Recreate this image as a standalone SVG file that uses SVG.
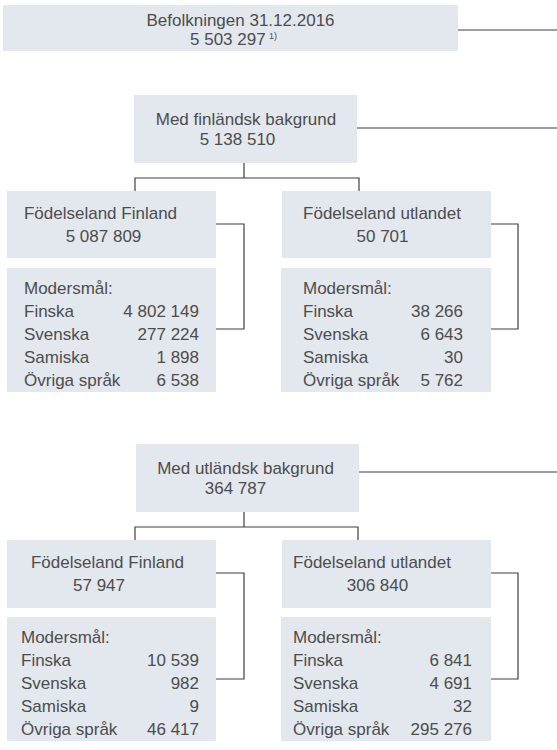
<svg xmlns="http://www.w3.org/2000/svg" width="557" height="750" viewBox="0 0 557 750">
<style>
.box{fill:#e3e7ee;}
.t{font-family:"Liberation Sans",Arial,sans-serif;font-size:17px;fill:#4d4d4d;}
.m{text-anchor:middle;}
.e{text-anchor:end;}
.sup{font-family:"Liberation Sans",Arial,sans-serif;font-size:9px;fill:#4d4d4d;}
.c{fill:none;stroke:#3f3f3f;stroke-width:1.2;}
</style>
<rect width="557" height="750" fill="#ffffff"/>
<g id="connectors">
<path class="c" d="M458,30 H557"/>
<path class="c" d="M357,128 H557"/>
<path class="c" d="M244,163 V178 M135,191 V178 H359 V191"/>
<path class="c" d="M216,224 H244 V329 H216"/>
<path class="c" d="M491,224 H518 V329 H491"/>
<path class="c" d="M359,472 H557"/>
<path class="c" d="M244,512 V527 M135,540 V527 H358 V540"/>
<path class="c" d="M216,573 H244 V679 H216"/>
<path class="c" d="M491,573 H518 V679 H491"/>
</g>
<g id="total">
<rect class="box" x="3" y="5" width="455" height="46"/>
<text class="t m" x="240.5" y="26">Befolkningen 31.12.2016</text>
<text class="t" x="190" y="45">5 503 297</text>
<text class="sup" x="269" y="39">1)</text>
</g>
<g id="fin-bakgrund">
<rect class="box" x="134" y="95" width="223" height="68"/>
<text class="t m" x="246" y="125">Med finländsk bakgrund</text>
<text class="t m" x="237.5" y="145">5 138 510</text>
</g>
<g id="fin-fodd-finland">
<rect class="box" x="7" y="191" width="209" height="67"/>
<text class="t m" x="100.5" y="219">Födelseland Finland</text>
<text class="t m" x="103.5" y="242">5 087 809</text>
</g>
<g id="fin-fodd-finland-sprak">
<rect class="box" x="7" y="268" width="209" height="124"/>
<text class="t" x="24" y="294">Modersmål:</text>
<text class="t" x="24" y="317">Finska</text><text class="t e" x="199" y="317">4 802 149</text>
<text class="t" x="24" y="340">Svenska</text><text class="t e" x="199" y="340">277 224</text>
<text class="t" x="24" y="363">Samiska</text><text class="t e" x="199" y="363">1 898</text>
<text class="t" x="24" y="386">Övriga språk</text><text class="t e" x="199" y="386">6 538</text>
</g>
<g id="fin-fodd-utland">
<rect class="box" x="282" y="191" width="209" height="67"/>
<text class="t m" x="382" y="219">Födelseland utlandet</text>
<text class="t m" x="382.5" y="242">50 701</text>
</g>
<g id="fin-fodd-utland-sprak">
<rect class="box" x="281" y="268" width="210" height="124"/>
<text class="t" x="303" y="294">Modersmål:</text>
<text class="t" x="303" y="317">Finska</text><text class="t e" x="463" y="317">38 266</text>
<text class="t" x="303" y="340">Svenska</text><text class="t e" x="463" y="340">6 643</text>
<text class="t" x="303" y="363">Samiska</text><text class="t e" x="463" y="363">30</text>
<text class="t" x="303" y="386">Övriga språk</text><text class="t e" x="463" y="386">5 762</text>
</g>
<g id="utl-bakgrund">
<rect class="box" x="136" y="444" width="223" height="68"/>
<text class="t m" x="245.5" y="474">Med utländsk bakgrund</text>
<text class="t m" x="235.5" y="494">364 787</text>
</g>
<g id="utl-fodd-finland">
<rect class="box" x="7" y="540" width="209" height="68"/>
<text class="t m" x="107.5" y="568">Födelseland Finland</text>
<text class="t m" x="99" y="591">57 947</text>
</g>
<g id="utl-fodd-finland-sprak">
<rect class="box" x="7" y="617" width="209" height="124"/>
<text class="t" x="21" y="643">Modersmål:</text>
<text class="t" x="21" y="666">Finska</text><text class="t e" x="199" y="666">10 539</text>
<text class="t" x="21" y="689">Svenska</text><text class="t e" x="199" y="689">982</text>
<text class="t" x="21" y="712">Samiska</text><text class="t e" x="199" y="712">9</text>
<text class="t" x="21" y="735">Övriga språk</text><text class="t e" x="199" y="735">46 417</text>
</g>
<g id="utl-fodd-utland">
<rect class="box" x="282" y="540" width="209" height="68"/>
<text class="t m" x="372" y="568">Födelseland utlandet</text>
<text class="t m" x="377.5" y="591">306 840</text>
</g>
<g id="utl-fodd-utland-sprak">
<rect class="box" x="281" y="617" width="210" height="124"/>
<text class="t" x="293" y="643">Modersmål:</text>
<text class="t" x="293" y="666">Finska</text><text class="t e" x="472" y="666">6 841</text>
<text class="t" x="293" y="689">Svenska</text><text class="t e" x="472" y="689">4 691</text>
<text class="t" x="293" y="712">Samiska</text><text class="t e" x="472" y="712">32</text>
<text class="t" x="293" y="735">Övriga språk</text><text class="t e" x="472" y="735">295 276</text>
</g>
</svg>
